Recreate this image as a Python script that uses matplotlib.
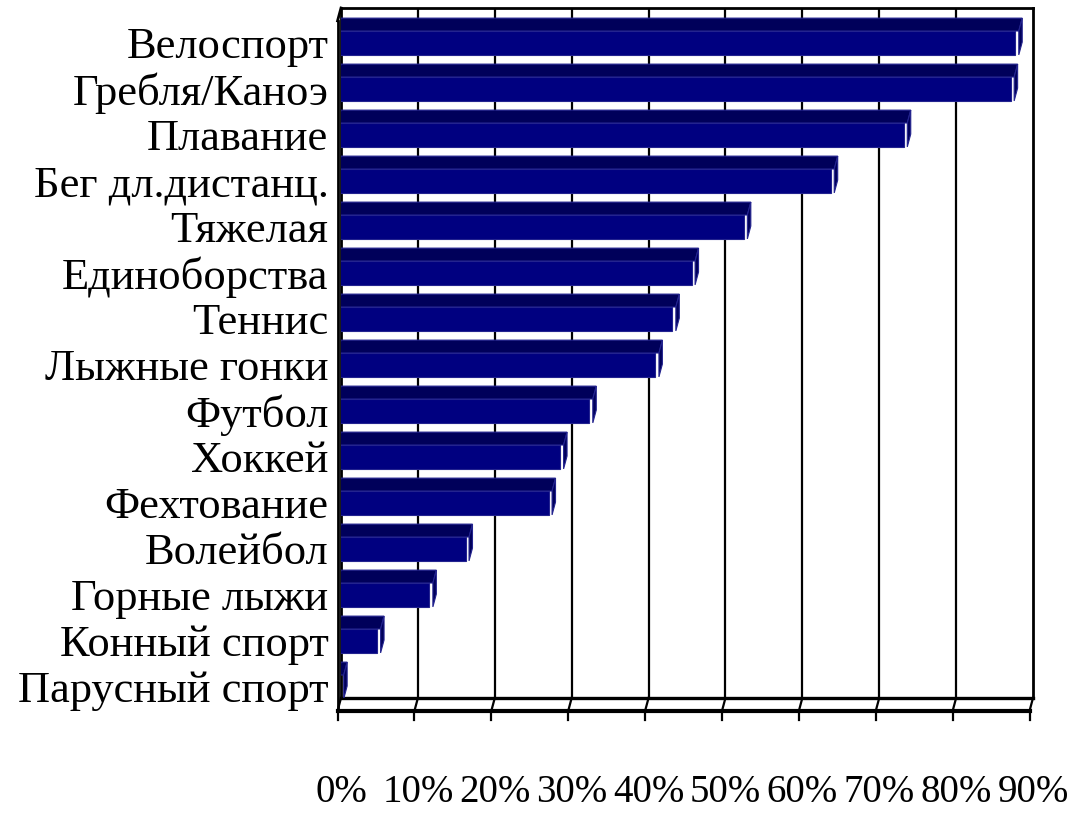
import matplotlib
matplotlib.use("Agg")
import matplotlib.pyplot as plt
from matplotlib.patches import Polygon

# sports, top to bottom, and share of athletes (fraction)
sports = ["Велоспорт", "Гребля/Каноэ", "Плавание", "Бег дл.дистанц.", "Тяжелая",
          "Единоборства", "Теннис", "Лыжные гонки", "Футбол", "Хоккей",
          "Фехтование", "Волейбол", "Горные лыжи", "Конный спорт", "Парусный спорт"]
shares = [0.886, 0.880, 0.741, 0.646, 0.533,
          0.465, 0.440, 0.418, 0.332, 0.294,
          0.279, 0.171, 0.124, 0.056, 0.008]
ticks = [0.0, 0.1, 0.2, 0.3, 0.4, 0.5, 0.6, 0.7, 0.8, 0.9]
tick_labels = ["0%", "10%", "20%", "30%", "40%", "50%", "60%", "70%", "80%", "90%"]

FRONT = "#000080"
TOP = "#00005a"
EDGE = "#23238f"

plt.rcParams["font.family"] = ["Liberation Serif", "DejaVu Serif"]

fig = plt.figure(figsize=(10.69, 8.23), dpi=100)
ax = fig.add_axes([341 / 1069, 125 / 823, 692 / 1069, 690 / 823])
n = len(sports)
ax.set_xlim(0, 0.9)
ax.set_ylim(0, n)
for s in ax.spines.values():
    s.set_visible(False)

# depth of the 3d box in data units
dx = 0.0045
dy = 0.28

# back wall grid
for t in ticks[1:-1]:
    ax.plot([t, t], [0, n], color="black", lw=1.6, zorder=1)
ax.plot([0.9, 0.9], [0, n], color="black", lw=2.0, zorder=1, clip_on=False)
ax.plot([0, 0.9], [n, n], color="black", lw=2.0, zorder=1, clip_on=False)
ax.plot([0, 0], [0, n], color="black", lw=2.0, zorder=1, clip_on=False)
ax.plot([-dx, -dx], [-dy, n - dy], color="black", lw=2.0, zorder=1, clip_on=False)
ax.plot([-dx, 0], [n - dy, n], color="black", lw=2.0, zorder=1, clip_on=False)

# floor
ax.plot([0, 0.9], [0, 0], color="black", lw=2.4, zorder=1, clip_on=False)
ax.plot([-dx, 0.9 - dx], [-dy, -dy], color="black", lw=3.0, zorder=1, clip_on=False)
for t in ticks:
    ax.plot([t, t - dx], [0, -dy], color="black", lw=1.6, zorder=1, clip_on=False)
    ax.plot([t - dx, t - dx], [-dy, -dy - 0.2], color="black", lw=1.6, zorder=1, clip_on=False)

# bars: front face, top face, end face
pos = [n - 1 - i for i in range(n)]
front_y = [p + 0.24 for p in pos]
ax.barh(front_y, [v - dx for v in shares], height=0.52, left=-dx,
        color=FRONT, edgecolor=EDGE, lw=0.8, zorder=3)
for p, v in zip(pos, shares):
    top = Polygon([(-dx, p + 0.5), (v - dx, p + 0.5), (v, p + 0.5 + dy), (0, p + 0.5 + dy)],
                  closed=True, facecolor=TOP, edgecolor=EDGE, lw=0.8, zorder=2)
    end = Polygon([(v - dx, p - 0.02), (v - dx, p + 0.5), (v, p + 0.5 + dy), (v, p - 0.02 + dy)],
                  closed=True, facecolor=TOP, edgecolor=EDGE, lw=0.8, zorder=2)
    ax.add_patch(top)
    ax.add_patch(end)

ax.set_yticks(front_y)
ax.set_yticklabels(sports, fontsize=32)
ax.tick_params(axis="y", length=0, pad=9)

ax.set_xticks(ticks)
ax.set_xticklabels(tick_labels, fontsize=28)
ax.tick_params(axis="x", length=0, pad=55)

fig.savefig("out.png", dpi=100, facecolor="white")
